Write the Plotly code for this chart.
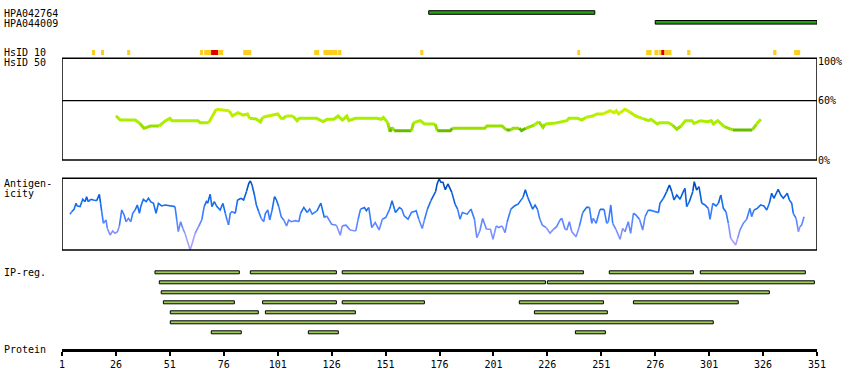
import plotly.graph_objects as go

# ---------------- data ----------------
protein_ticks = [1, 26, 51, 76, 101, 126, 151, 176, 201, 226, 251, 276, 301, 326, 351]

hpa_names = ["HPA042764", "HPA044009"]
hpa_start = [171, 276]
hpa_end = [248, 351]

# HsID 10 blocks (residue start / end), level: 1 = medium, 2 = high
hsid_start = [14.9, 19.1, 31.2, 65.0, 66.9, 70.1, 73.4, 85.0, 117.9, 122.2, 129.0,
              167.1, 239.9, 271.8, 275.6, 277.8, 278.8, 280.3, 290.8, 330.7, 340.4]
hsid_end = [16.3, 20.5, 32.6, 66.4, 70.1, 73.4, 75.7, 88.7, 120.2, 128.7, 130.5,
            168.5, 241.2, 274.3, 277.5, 278.8, 280.3, 283.5, 292.3, 332.2, 343.2]
hsid_level = [1, 1, 1, 1, 1, 2, 1, 1, 1, 1, 1,
              1, 1, 1, 1, 1, 2, 1, 1, 1, 1]

# HsID 50 similarity (%) along the sequence
sim_res = [26, 28, 35, 37, 39, 42, 46, 49, 51, 52, 64, 65, 69, 72.5, 78.5, 80, 82.5, 85, 87, 88,
           91, 93, 94, 98, 101, 103, 105, 108, 110, 111, 119, 122, 124, 127, 129, 131, 133, 134,
           137, 147, 149, 150, 152, 153, 154, 155, 163, 164, 167, 169, 174, 175, 181, 182, 197,
           198, 205, 207, 209, 210, 213, 214, 216, 220, 222, 224, 225, 229, 235, 236, 240, 242,
           244, 247, 249, 252, 255, 257, 258, 259, 262, 264, 267, 270, 273, 274, 277, 278, 282,
           284, 286, 288, 290, 293, 294, 297, 300, 302, 303, 305, 308, 312, 321, 323, 325]
sim_pct = [44.8, 40.5, 40.5, 37.1, 32.1, 34.4, 34.4, 39.8, 42.2, 39.8, 39.8, 37.8, 37.8, 51.3,
           49.9, 44.5, 47.9, 45.5, 46.6, 42.2, 41.5, 38.5, 43.2, 45.5, 46.6, 41.2, 44.5, 44.5,
           39.8, 42.2, 42.2, 38.8, 41.2, 41.2, 44.5, 40.5, 44.5, 39.8, 42.2, 42.2, 41.2, 43.2,
           37.8, 28.6, 33.1, 29.7, 29.7, 37.8, 39.8, 36.4, 36.4, 29.7, 29.7, 32.1, 32.1, 34.4,
           34.4, 30.4, 30.4, 32.1, 32.1, 29.7, 32.1, 35.4, 38.8, 33.1, 36.4, 37.1, 39.8, 42.2,
           42.2, 40.5, 43.2, 44.5, 46.6, 46.6, 49.9, 47.9, 49.9, 46.6, 51.3, 48.9, 44.5, 42.2,
           39.8, 41.2, 36.4, 37.8, 37.8, 35.4, 31.1, 34.4, 39.8, 39.8, 37.1, 39.8, 38.8, 39.8,
           36.4, 39.8, 33.7, 30.4, 30.4, 36.4, 41.2]

# Antigenicity (relative, 0 = lowest, 100 = highest)
ag_res = [4.7, 5.5, 6.6, 7.5, 8.1, 9.4, 10.6, 11.7, 12.4, 13.2, 14.3, 15.5, 17.1, 18.3, 18.9,
          19.4, 20.2, 21.4, 22.0, 23.3, 24.5, 25.6, 26.7, 27.6, 28.7, 29.8, 30.7, 31.8, 32.9,
          33.8, 34.9, 35.9, 36.9, 37.5, 38.7, 40.0, 41.1, 42.1, 43.4, 44.6, 45.7, 47.2, 48.8,
          52.6, 53.4, 54.2, 54.9, 56.0, 57.0, 58.0, 59.1, 60.4, 61.6, 62.7, 64.3, 65.8, 66.9,
          67.9, 68.5, 69.7, 70.5, 71.6, 72.8, 74.3, 75.6, 76.7, 77.5, 78.2, 79.0, 79.8, 81.3,
          82.4, 84.0, 85.2, 86.5, 87.6, 88.3, 89.1, 90.2, 91.1, 92.2, 93.3, 94.5, 95.3, 96.4,
          97.3, 98.4, 99.5, 100.4, 101.5, 102.6, 103.8, 105.1, 106.1, 107.2, 109.3, 110.8, 111.6,
          113.1, 114.7, 115.8, 117.0, 119.2, 121.0, 122.6, 123.7, 126.0, 128.2, 130.0, 130.9,
          132.7, 134.5, 137.2, 138.3, 139.4, 141.2, 142.1, 143.2, 144.6, 146.2, 148.0, 149.5,
          151.1, 152.9, 154.0, 155.6, 157.4, 158.5, 159.6, 161.4, 163.0, 165.2, 166.4, 168.0,
          169.1, 170.4, 172.0, 173.1, 174.2, 174.9, 175.8, 176.7, 177.6, 178.7, 179.9, 181.7,
          183.2, 184.4, 185.5, 186.6, 188.8, 190.6, 192.2, 193.3, 194.7, 196.0, 197.8, 199.6,
          200.8, 202.3, 203.5, 205.0, 206.4, 207.3, 209.1, 210.9, 212.4, 214.7, 215.8, 216.9,
          218.0, 219.2, 220.3, 221.4, 222.5, 223.7, 225.5,
          227.2, 228.8, 230.3, 231.9, 232.7, 234.2, 235.0, 236.2, 237.3, 239.3, 240.8, 242.4,
          244.2, 245.5, 246.6, 247.3, 248.6, 250.4, 252.3, 253.5, 254.3, 255.4, 256.3, 257.8,
          259.7, 260.9, 262.0, 263.5, 264.6, 265.9, 267.1, 268.7, 270.2, 271.3, 272.8, 274.4,
          276.7, 277.5, 278.2, 279.8, 281.3, 282.6, 283.7, 284.7, 286.0, 287.5, 289.0, 289.8,
          290.6, 291.8, 293.4, 294.1, 295.2, 296.3, 297.6, 299.1, 300.6, 301.4, 302.7, 304.2,
          305.3, 306.4, 307.6, 308.8, 309.9, 311.0, 312.2, 313.3, 314.2, 315.3, 316.8, 318.4,
          319.9, 320.7, 321.8, 323.3, 324.9, 326.4, 327.7, 328.9, 330.0, 331.0, 332.3, 333.0,
          334.2, 335.4, 336.6, 337.2, 338.2, 339.3, 340.0, 341.3, 342.4, 343.1, 343.9, 345.0]
ag_val = [49.8, 53.5, 56.7, 65.1, 61.4, 60.5, 70.7, 67.4, 74.4, 67.4, 70.7, 69.8, 68.8, 77.7, 65.1,
          53.5, 37.2, 41.9, 30.2, 20.9, 26.5, 23.3, 25.6, 33.5, 55.8, 48.8, 39.5, 44.2, 39.5,
          51.2, 55.8, 62.8, 51.2, 60.5, 70.7, 67.4, 72.1, 67.4, 65.1, 51.2, 65.1, 61.4, 62.8,
          60.5, 60.5, 41.9, 25.6, 39.5, 30.2, 23.3, 11.6, 0.0, 11.6, 23.3, 32.6, 41.9, 60.5,
          67.4, 65.1, 77.7, 60.5, 67.4, 60.5, 55.8, 65.1, 51.2, 41.9, 34.9, 51.2, 53.5, 51.2,
          69.8, 72.1, 69.8, 81.4, 93.0, 96.3, 90.7, 76.7, 62.8, 53.5, 44.2, 39.5, 51.2, 55.8,
          41.9, 55.8, 74.4, 69.8, 60.5, 46.5, 41.9, 33.5, 41.9, 39.5, 40.9, 39.5, 51.2,
          59.3, 52.3, 57.0, 50.0, 54.7, 65.4, 45.3, 47.7, 36.0, 34.6, 20.6, 33.6,
          34.6, 28.0, 26.6, 43.0, 57.0, 59.3, 54.7, 59.3, 31.3, 38.3, 28.0, 43.0,
          45.3, 57.0, 68.7, 52.3, 59.3, 57.0, 47.7, 43.0, 52.3, 54.7, 43.0, 29.9,
          43.0, 57.0, 68.7, 75.7, 81.3, 92.1, 99.0, 94.4, 94.4, 84.1, 92.1, 80.4,
          64.0, 57.0, 43.0, 52.3, 50.0, 57.0, 43.0, 17.3, 26.6, 43.9, 29.0, 29.0,
          15.0, 33.6, 31.3, 33.6, 24.3, 38.3, 57.0, 61.7, 64.0, 73.4, 84.1, 73.4,
          66.4, 57.0, 62.6, 57.0, 43.0, 34.6, 31.3,
          23.3, 28.8, 32.6, 41.9, 44.2, 28.8, 27.9, 39.5, 25.6, 18.6, 32.6, 52.1,
          59.5, 59.5, 37.2, 44.2, 37.2, 56.7, 56.7, 37.2, 39.5, 62.8, 37.2, 28.8,
          14.9, 30.2, 25.6, 39.5, 23.3, 51.2, 48.8, 42.8, 27.9, 46.5, 55.8, 54.9,
          53.5, 52.1, 65.1, 72.1, 81.4, 90.7, 81.4, 69.8, 76.7, 70.7, 81.4, 86.0,
          60.5, 67.4, 81.4, 95.3, 83.7, 88.4, 65.1, 62.8, 58.1, 42.8, 65.1, 61.4,
          65.1, 76.7, 58.1, 53.5, 37.2, 16.3, 11.6, 7.0, 16.3, 27.9, 37.2, 42.8,
          58.1, 46.5, 55.8, 58.1, 62.8, 61.4, 55.8, 65.1, 79.1, 72.1, 79.1, 84.7,
          76.7, 72.1, 76.7, 79.1, 69.8, 65.1, 51.2, 44.2, 25.6, 32.6, 34.9, 46.5]

# IP-regions: row index, start residue, end residue
ip_row = [0, 0, 0, 0, 0, 1, 1, 2, 3, 3, 3, 3, 3, 4, 4, 4, 5, 6, 6, 6]
ip_start = [44.1, 88.3, 130.9, 254.7, 296.9, 46.1, 226.0, 47.0, 48.0, 94.0, 130.9, 213.0,
            265.9, 51.2, 95.3, 220.0, 51.2, 70.2, 115.2, 239.0]
ip_end = [83.2, 128.2, 242.7, 293.7, 345.6, 225.1, 349.8, 328.9, 80.9, 128.2, 169.0, 252.0,
          314.5, 92.0, 137.0, 253.8, 302.9, 84.1, 129.1, 252.9]

# ---------------- styling / layout helpers ----------------
W, H = 850, 390
PX_L, PX_R = 62, 817
FONT = "DejaVu Sans Mono"


def frac(py):
    return (H - py) / H


def sim_color(v):
    if v < 31:
        return "#66bb00"
    if v < 36:
        return "#99e000"
    if v < 43:
        return "#aaee00"
    if v < 48:
        return "#bbee00"
    return "#ccee00"


def ag_color(v):
    if v >= 85:
        return "#0050c0"
    if v >= 70:
        return "#0a60dc"
    if v >= 55:
        return "#1a6ef0"
    if v >= 42:
        return "#3a7cff"
    if v >= 30:
        return "#5e88ff"
    if v >= 18:
        return "#8090ff"
    return "#a4a0ff"


def colored_runs(xs, ys, cfn):
    runs = []
    for i in range(len(xs) - 1):
        c = cfn((ys[i] + ys[i + 1]) / 2)
        if runs and runs[-1][0] == c:
            runs[-1][1].append(xs[i + 1])
            runs[-1][2].append(ys[i + 1])
        else:
            runs.append([c, [xs[i], xs[i + 1]], [ys[i], ys[i + 1]]])
    return runs


fig = go.Figure()

# HPA antibody bars
hpa_rows = [12.5, 22.3]
fig.add_trace(go.Bar(orientation="h", y=hpa_rows, base=hpa_start,
                     x=[e - s for s, e in zip(hpa_start, hpa_end)], width=3.6,
                     marker=dict(color="#22a00f", line=dict(color="black", width=1)),
                     xaxis="x", yaxis="y", hoverinfo="skip"))

# HsID 10 blocks
hs_cols = ["#ffcc22" if l == 1 else "#dd0000" for l in hsid_level]
fig.add_trace(go.Bar(orientation="h", y=[52.5] * len(hsid_start), base=hsid_start,
                     x=[e - s for s, e in zip(hsid_start, hsid_end)], width=5,
                     marker=dict(color=hs_cols, line=dict(width=0)),
                     xaxis="x", yaxis="y", hoverinfo="skip"))

# IP-region bars
fig.add_trace(go.Bar(orientation="h", y=[272.3 + 10 * r for r in ip_row], base=ip_start,
                     x=[e - s for s, e in zip(ip_start, ip_end)], width=3,
                     marker=dict(color="#9ec85a", line=dict(color="black", width=1)),
                     xaxis="x", yaxis="y", hoverinfo="skip"))

# Similarity line
for c, xs, ys in colored_runs(sim_res, sim_pct, sim_color):
    fig.add_trace(go.Scatter(x=xs, y=ys, mode="lines", line=dict(color=c, width=3),
                             xaxis="x", yaxis="y2", hoverinfo="skip"))

# Antigenicity line
for c, xs, ys in colored_runs(ag_res, ag_val, ag_color):
    fig.add_trace(go.Scatter(x=xs, y=ys, mode="lines", line=dict(color=c, width=1.6),
                             xaxis="x", yaxis="y3", hoverinfo="skip"))

shapes = [
    dict(type="rect", xref="x", yref="y", x0=1, x1=351, y0=58.3, y1=160,
         line=dict(color="black", width=1.5), layer="above"),
    dict(type="line", xref="x", yref="y2", x0=1, x1=351, y0=60, y1=60,
         line=dict(color="black", width=1.2), layer="above"),
    dict(type="rect", xref="x", yref="y", x0=1, x1=351, y0=178.3, y1=250,
         line=dict(color="black", width=1.5), layer="above"),
]

labels = [("HPA042764", 13.3), ("HPA044009", 23.3), ("HsID 10", 52.6), ("HsID 50", 62.6),
          ("Antigen-", 183.5), ("icity", 193.5), ("IP-reg.", 272.5), ("Protein", 349.5)]
annotations = [dict(text=t, xref="paper", yref="y", x=2 / W, y=yy, xanchor="left",
                    yanchor="middle", showarrow=False,
                    font=dict(family=FONT, size=10, color="black")) for t, yy in labels]

fig.update_layout(
    width=W, height=H, autosize=False,
    margin=dict(l=0, r=0, t=0, b=0, pad=0, autoexpand=False),
    paper_bgcolor="white", plot_bgcolor="rgba(0,0,0,0)",
    showlegend=False, barmode="overlay",
    font=dict(family=FONT, size=10, color="black"),
    xaxis=dict(domain=[PX_L / W, PX_R / W], range=[1, 351], anchor="free",
               position=frac(349.5), showline=True, linewidth=3, linecolor="black",
               ticks="outside", ticklen=4, tickwidth=2, tickcolor="black",
               tickvals=protein_ticks, ticktext=[str(t) for t in protein_ticks],
               tickfont=dict(family=FONT, size=10, color="black"),
               showgrid=False, zeroline=False, fixedrange=True, automargin=False),
    yaxis=dict(domain=[0, 1], range=[H, 0], visible=False, anchor="x", fixedrange=True,
               automargin=False),
    yaxis2=dict(domain=[frac(160), frac(61.2)], range=[0, 100], anchor="free",
                position=PX_R / W, side="right", tickvals=[0, 60, 100],
                ticktext=["0%", "60%", "100%"], ticks="", showline=False, showgrid=False,
                zeroline=False, tickfont=dict(family=FONT, size=10, color="black"),
                fixedrange=True, automargin=False),
    yaxis3=dict(domain=[frac(250), frac(178.3)], range=[0, 100], visible=False,
                anchor="x", fixedrange=True, automargin=False),
    shapes=shapes, annotations=annotations,
)

fig.write_html("out.html", config={"displayModeBar": False},
               post_script="document.body.style.margin='0';document.body.style.overflow='hidden';")
